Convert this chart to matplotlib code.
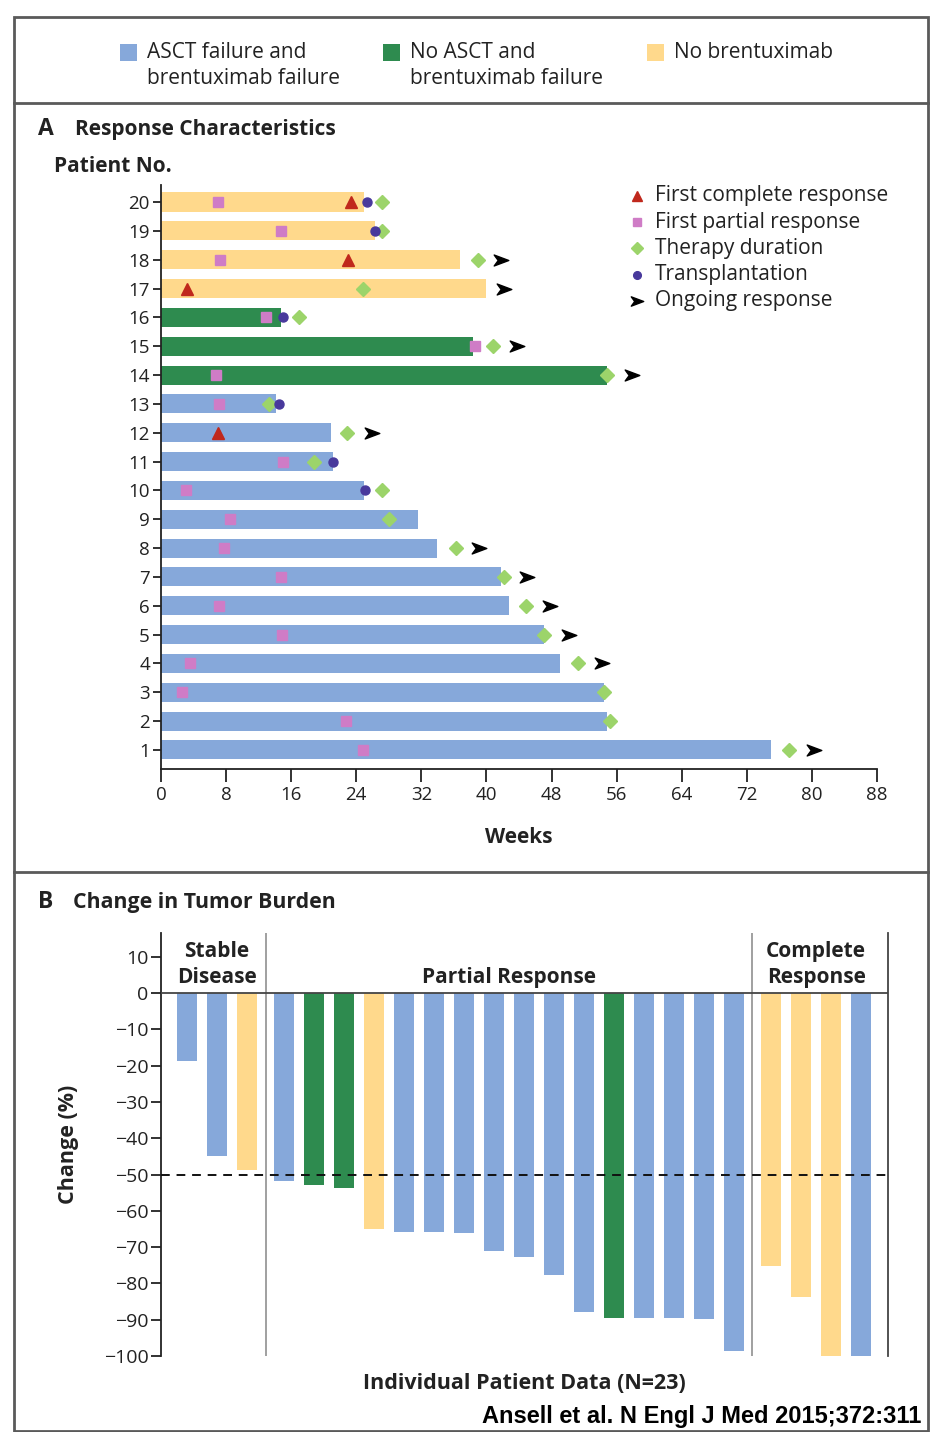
import numpy as np
import matplotlib
matplotlib.use("Agg")
import matplotlib.pyplot as plt
from matplotlib.patches import Rectangle
from matplotlib.lines import Line2D
from matplotlib.path import Path

plt.rcParams['font.family'] = ['Open Sans', 'DejaVu Sans']

# ---------------- data ----------------
group_names = ["ASCT failure and\nbrentuximab failure",
               "No ASCT and\nbrentuximab failure",
               "No brentuximab"]
group_colors = ["#86A8DA", "#2E8B4F", "#FFD98C"]

patients = list(range(1, 21))
patient_group = [0]*13 + [1]*3 + [2]*4
bar_weeks = [75.0, 54.8, 54.4, 49.0, 47.1, 42.8, 41.8, 33.9, 31.6, 25.0,
             21.1, 20.9, 14.1, 54.8, 38.4, 14.8, 39.9, 36.7, 26.3, 24.9]

partial_pts = [1, 2, 3, 4, 5, 6, 7, 8, 9, 10, 11, 13, 14, 15, 16, 18, 19, 20]
partial_wk = [24.8, 22.7, 2.6, 3.6, 14.9, 7.1, 14.8, 7.7, 8.5, 3.1, 15.0,
              7.1, 6.7, 38.6, 12.9, 7.2, 14.7, 7.0]
complete_pts = [12, 17, 18, 20]
complete_wk = [7.0, 3.2, 23.0, 23.3]
therapy_wk = [77.2, 55.2, 54.4, 51.2, 47.1, 44.9, 42.1, 36.3, 28.0, 27.2,
              18.8, 22.8, 13.3, 54.8, 40.8, 17.0, 24.8, 38.9, 27.2, 27.2]
transplant_pts = [10, 11, 13, 16, 19, 20]
transplant_wk = [25.1, 21.1, 14.5, 15.0, 26.3, 25.3]
ongoing_pts = [1, 4, 5, 6, 7, 8, 12, 14, 15, 17, 18]
ongoing_wk = [80.3, 54.2, 50.2, 47.8, 45.0, 39.1, 25.9, 57.9, 43.7, 42.2, 41.8]

week_ticks = [0, 8, 16, 24, 32, 40, 48, 56, 64, 72, 80, 88]

# Panel B
response_groups = ["Stable\nDisease", "Partial Response", "Complete\nResponse"]
response_counts = [3, 16, 4]
change_pct = [-18.8, -44.8, -48.6,
              -51.8, -52.8, -53.8, -65.1, -65.7, -65.8, -66.1, -71.0, -72.6,
              -77.7, -87.8, -89.4, -89.4, -89.6, -89.8, -98.5,
              -75.1, -83.8, -99.9, -99.9]
change_group = [0, 0, 2,
                0, 1, 1, 2, 0, 0, 0, 0, 0, 0, 0, 1, 0, 0, 0, 0,
                2, 2, 2, 0]
change_ticks = [10, 0, -10, -20, -30, -40, -50, -60, -70, -80, -90, -100]

marker_labels = ["First complete response", "First partial response",
                 "Therapy duration", "Transplantation", "Ongoing response"]

# ---------------- figure ----------------
W, H = 932, 1432
fig = plt.figure(figsize=(W/100, H/100), dpi=100)

def fx(x):
    return x / W

def fy(y):
    return 1 - y / H

frame_col = "#5a5a5a"
fig.add_artist(Rectangle((fx(14), fy(1431)), fx(928) - fx(14), fy(17) - fy(1431),
                         transform=fig.transFigure, fill=False, ec=frame_col, lw=2))
for yy in (103, 872):
    fig.add_artist(Line2D([fx(14), fx(928)], [fy(yy), fy(yy)],
                          transform=fig.transFigure, color=frame_col, lw=2))

txt_col = "#222222"
big = 15

# top legend
leg_x = [128, 391, 655]
for i, name in enumerate(group_names):
    s = 17
    fig.add_artist(Rectangle((fx(leg_x[i] - s/2), fy(52 + s/2)), s/W, s/H,
                             transform=fig.transFigure, color=group_colors[i], lw=0))
    fig.text(fx(leg_x[i] + 19), fy(42), name, ha='left', va='top',
             fontsize=big, color=txt_col, linespacing=1.32)

# ---------------- Panel A ----------------
axA = fig.add_axes([fx(161), fy(769), fx(877) - fx(161), fy(185) - fy(769)])
colorsA = [group_colors[g] for g in patient_group]
axA.barh(patients, bar_weeks, height=0.66, color=colorsA, lw=0, zorder=1)

arrow_path = Path([(-1, -0.75), (1, 0), (-1, 0.75), (-0.45, 0), (-1, -0.75)],
                  [Path.MOVETO, Path.LINETO, Path.LINETO, Path.LINETO, Path.CLOSEPOLY])

sq_kw = dict(marker='s', color='#CF7CC6', ms=6.5, ls='none', zorder=3)
tri_kw = dict(marker='^', color='#C0281C', ms=9, ls='none', zorder=4)
dia_kw = dict(marker='D', color='#9CD46A', ms=7, ls='none', zorder=4)
cir_kw = dict(marker='o', color='#48399C', ms=6.5, ls='none', zorder=5)
arr_kw = dict(marker=arrow_path, color='black', ms=10.5, ls='none', zorder=5)

axA.plot(partial_wk, partial_pts, **sq_kw)
axA.plot(complete_wk, complete_pts, **tri_kw)
axA.plot(therapy_wk, patients, **dia_kw)
axA.plot(transplant_wk, transplant_pts, **cir_kw)
axA.plot(ongoing_wk, ongoing_pts, **arr_kw)

axA.set_xlim(0, 88)
axA.set_ylim(0.34, 20.59)
axA.set_xticks(week_ticks)
axA.set_yticks(patients)
axA.set_yticklabels([str(p) for p in patients])
for s in ('top', 'right'):
    axA.spines[s].set_visible(False)
for s in ('left', 'bottom'):
    axA.spines[s].set_linewidth(1.3)
    axA.spines[s].set_color('#222222')
axA.tick_params(axis='x', length=9, width=1.3, labelsize=13.5, pad=3, colors='#222222')
axA.tick_params(axis='y', length=6, width=1.3, labelsize=13.5, pad=2, colors='#222222')
axA.set_xlabel("Weeks", fontsize=big, fontweight='bold', color=txt_col, labelpad=17)

# marker legend
leg_kws = [tri_kw, sq_kw, dia_kw, cir_kw, arr_kw]
for i, (lab, kw) in enumerate(zip(marker_labels, leg_kws)):
    y = 196 + 26.2 * i
    k = dict(kw)
    k['ms'] = k['ms'] * 0.85
    fig.add_artist(Line2D([fx(637)], [fy(y)], transform=fig.transFigure, **k))
    fig.text(fx(655), fy(y), lab, ha='left', va='center', fontsize=big, color=txt_col)

fig.text(fx(38), fy(129), "A", ha='left', va='center', fontsize=16.5, fontweight='bold', color=txt_col)
fig.text(fx(75), fy(129), "Response Characteristics", ha='left', va='center',
         fontsize=big, fontweight='bold', color=txt_col)
fig.text(fx(54), fy(166), "Patient No.", ha='left', va='center',
         fontsize=big, fontweight='bold', color=txt_col)

# ---------------- Panel B ----------------
axB = fig.add_axes([fx(161), fy(1356), fx(888) - fx(161), fy(933) - fy(1356)])
pos = []
idx = 0
for g, n in enumerate(response_counts):
    for j in range(n):
        pos.append(idx + 0.25 * g)
        idx += 1
pos = np.array(pos)
colorsB = [group_colors[g] for g in change_group]
axB.bar(pos, change_pct, width=0.67, color=colorsB, lw=0, zorder=1)

axB.set_xlim(pos[0] - 0.87, pos[-1] + 0.9)
axB.set_ylim(-100, 16.6)
axB.set_yticks(change_ticks)
axB.set_yticklabels([str(t).replace('-', '\u2212') for t in change_ticks])
axB.set_xticks([])
for s in ('top', 'bottom'):
    axB.spines[s].set_visible(False)
axB.spines['left'].set_linewidth(1.3)
axB.spines['left'].set_color('#222222')
axB.spines['right'].set_linewidth(1.3)
axB.spines['right'].set_color('#444444')
axB.tick_params(axis='y', length=7, width=1.3, labelsize=14, pad=2, colors='#222222')

axB.axhline(0, color='#444444', lw=1.3, zorder=3)
axB.axhline(-50, color='#111111', lw=1.4, ls=(0, (4.5, 3.5)), zorder=3)

starts = np.cumsum([0] + response_counts)
for g in range(3):
    a = pos[starts[g]]
    b = pos[starts[g + 1] - 1]
    if g < 2:
        xd = (b + pos[starts[g + 1]]) / 2
        axB.axvline(xd, color='#999999', lw=1.3, zorder=0)
    xc = (a + b) / 2
    axB.text(xc, 1.4, response_groups[g], ha='center', va='bottom', fontsize=big,
             fontweight='bold', color=txt_col, linespacing=1.35)

axB.set_ylabel("Change (%)", fontsize=15.5, fontweight='bold', color=txt_col, labelpad=18)
axB.set_xlabel("Individual Patient Data (N=23)", fontsize=15.5, fontweight='bold',
               color=txt_col, labelpad=12)

fig.text(fx(38), fy(902), "B", ha='left', va='center', fontsize=16.5, fontweight='bold', color=txt_col)
fig.text(fx(73), fy(902), "Change in Tumor Burden", ha='left', va='center',
         fontsize=15.3, fontweight='bold', color=txt_col)

fig.text(fx(921), fy(1417), "Ansell et al. N Engl J Med 2015;372:311", ha='right', va='center',
         fontsize=17, fontweight='bold', family=['Liberation Sans', 'DejaVu Sans'], color='black')

fig.savefig("out.png", dpi=100)
